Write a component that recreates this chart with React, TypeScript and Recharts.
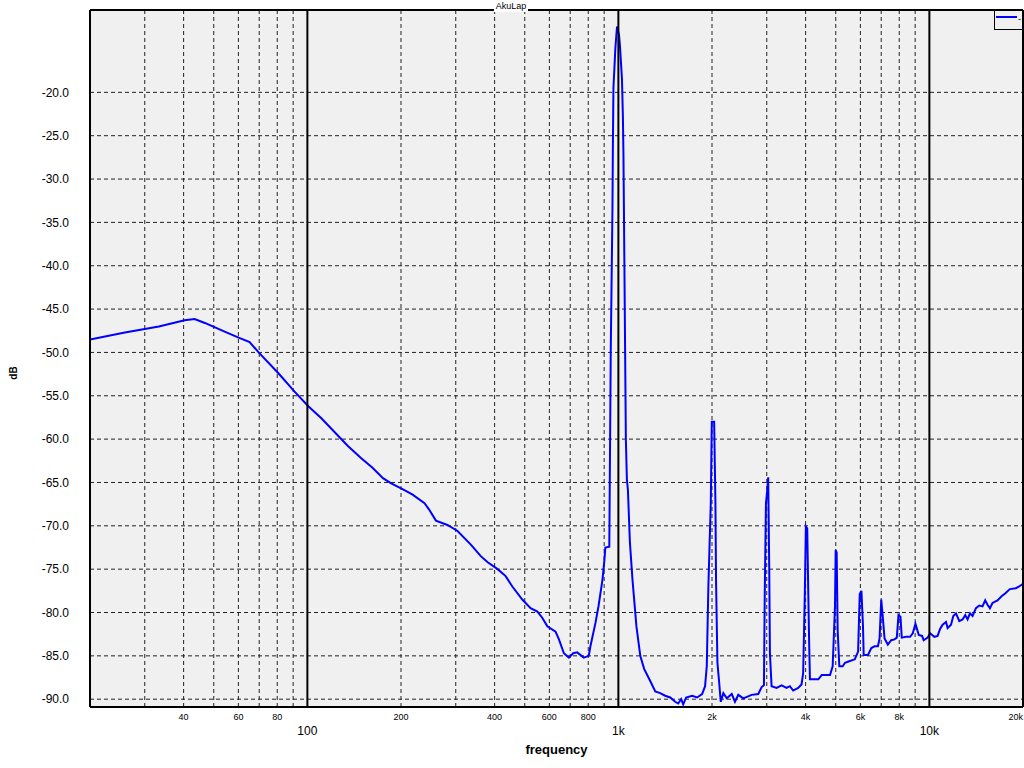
import { LineChart, Line, XAxis, YAxis, CartesianGrid, ReferenceLine } from "recharts";

// spectrum (Hz / dB)
const freq = [
  20, 25.9, 33.3, 40.3, 43.4, 46.8, 54.2, 60.1, 65.2, 69.7, 80.7, 90.8, 100.7, 110.9,
  135, 149, 162, 175, 186, 203, 218, 238, 246, 259, 282, 304, 336, 361, 380, 409, 434,
  456, 491, 522, 549, 569, 591, 628, 644, 668, 693, 716, 737, 774, 803, 813, 844, 863,
  889, 902, 908, 935, 945, 957, 960, 964, 971, 978, 990, 1005, 1012, 1027, 1034, 1038,
  1042, 1057, 1065, 1073, 1089, 1110, 1143, 1176, 1210, 1266, 1314, 1363, 1414, 1468,
  1523, 1557, 1592, 1616, 1651, 1727, 1791, 1859, 1900, 1924, 1947, 1982, 1997, 2032,
  2051, 2061, 2082, 2107, 2134, 2175, 2231, 2315, 2371, 2430, 2521, 2683, 2817, 2888,
  2938, 2955, 2982, 3012, 3032, 3055, 3071, 3109, 3227, 3348, 3474, 3560, 3648, 3785,
  3880, 3928, 3977, 4007, 4048, 4078, 4108, 4130, 4395, 4507, 4792, 4887, 4971, 4997,
  5034, 5071, 5133, 5263, 5354, 5552, 5758, 5899, 5971, 6046, 6117, 6148, 6347, 6506,
  6667, 6832, 6915, 7002, 7085, 7176, 7352, 7539, 7725, 7857, 7956, 8074, 8151, 8420,
  8673, 8842, 9020, 9107, 9243, 9476, 9588, 9874, 10051, 10375, 10631, 10822, 11030,
  11311, 11447, 11737, 11937, 12179, 12480, 12786, 13045, 13269, 13506, 13767, 14116,
  14465, 14819, 15118, 15379, 15654, 15957, 16556, 17102, 17524, 18144, 18967, 19433,
  20000,
];
const level = [
  -48.5, -47.7, -47.0, -46.3, -46.15, -46.6, -47.6, -48.3, -48.8, -50.0, -52.4, -54.5, -56.2, -57.6,
  -60.8, -62.2, -63.3, -64.5, -65.1, -65.8, -66.4, -67.4, -68.1, -69.4, -69.9, -70.6, -72.2, -73.5, -74.2, -75.0, -75.8,
  -77.0, -78.5, -79.5, -79.9, -80.6, -81.6, -82.2, -83.1, -84.7, -85.2, -84.7, -84.6, -85.2, -85.0, -83.9, -81.2, -79.3,
  -76.2, -73.9, -72.5, -72.4, -50.0, -33.6, -26.5, -19.5, -17.2, -14.9, -12.4, -13.4, -14.7, -18.5, -22.8, -26.9,
  -33.6, -60.0, -64.7, -65.8, -71.9, -76.2, -81.6, -85.0, -86.5, -87.9, -89.1, -89.3, -89.6, -89.8,
  -90.3, -90.5, -90.0, -90.6, -89.8, -89.6, -89.8, -89.4, -88.5, -86.2, -77.0, -67.4, -58.0, -58.0,
  -67.2, -76.4, -85.8, -87.9, -90.3, -89.3, -89.9, -89.4, -90.3, -89.5, -89.9, -89.5, -89.4, -88.6,
  -88.4, -78.1, -67.4, -65.8, -64.4, -74.7, -84.7, -88.5, -88.7, -88.4, -88.7, -88.5, -89.0, -88.7,
  -88.3, -87.0, -77.7, -70.1, -70.3, -77.4, -83.9, -87.7, -87.7, -87.2, -87.2, -86.2, -79.3, -72.8,
  -73.1, -82.0, -86.2, -86.2, -85.8, -85.6, -85.4, -84.5, -77.9, -77.5, -81.6, -84.9, -84.9, -84.1,
  -83.9, -83.9, -83.0, -78.5, -80.6, -83.0, -83.7, -83.2, -83.1, -82.9, -80.3, -80.5, -82.9, -82.8,
  -82.8, -82.4, -81.3, -81.8, -82.6, -82.7, -83.2, -82.9, -82.4, -82.8, -82.7, -81.9, -81.4,
  -81.1, -81.8, -81.4, -80.4, -80.1, -81.0, -80.8, -80.3, -80.8, -80.1, -80.4, -79.5,
  -79.2, -79.3, -78.6, -79.1, -79.5, -78.9, -78.6, -78.1, -77.8, -77.3, -77.2, -77.0,
  -76.7,
];

const yTicks = [-20, -25, -30, -35, -40, -45, -50, -55, -60, -65, -70, -75, -80, -85, -90];
const xTicks = [40, 60, 80, 100, 200, 400, 600, 800, 1000, 2000, 4000, 6000, 8000, 10000, 20000];
const xLabels = ["40", "60", "80", "100", "200", "400", "600", "800", "1k", "2k", "4k", "6k", "8k", "10k", "20k"];
const majorLines = [100, 1000, 10000];
const minorLines = [
  30, 40, 50, 60, 70, 80, 90, 200, 300, 400, 500, 600, 700, 800, 900,
  2000, 3000, 4000, 5000, 6000, 7000, 8000, 9000,
];

const X_MIN = 20;
const X_MAX = 20000;
const Y_MIN = -90.9;
const Y_MAX = -10.5;

const data = freq.map((f, i) => ({ f, db: level[i] }));

const font = "'Liberation Sans', Arial, sans-serif";

function FreqTick(props: any) {
  const { x, y, payload } = props;
  const idx = xTicks.indexOf(payload.value);
  const text = idx >= 0 ? xLabels[idx] : String(payload.value);
  const major = majorLines.includes(payload.value);
  const last = payload.value === X_MAX;
  return (
    <text
      x={x}
      y={y + (major ? 28 : 13)}
      textAnchor={last ? "end" : "middle"}
      fontFamily={font}
      fontSize={major ? 12 : 9}
      fill="#000"
    >
      {text}
    </text>
  );
}

export default function App() {
  return (
    <div style={{ position: "absolute", left: 0, top: 0, width: 1024, height: 768, background: "#fff" }}>
      <LineChart width={1024} height={768} data={data} margin={{ top: 10, right: 1, bottom: 0, left: 0 }}>
        <CartesianGrid
          vertical={false}
          stroke="#222"
          strokeDasharray="4 3"
          fill="#f0f0f0"
          fillOpacity={1}
        />
        <XAxis
          dataKey="f"
          type="number"
          scale="log"
          domain={[X_MIN, X_MAX]}
          allowDataOverflow
          ticks={xTicks}
          interval={0}
          height={61}
          tickLine={false}
          tickSize={0}
          tickMargin={0}
          tick={<FreqTick />}
          axisLine={{ stroke: "#000", strokeWidth: 2 }}
          label={{
            content: (p: any) => (
              <text
                x={p.viewBox.x + p.viewBox.width / 2}
                y={p.viewBox.y + 47}
                textAnchor="middle"
                fontFamily={font}
                fontSize={13}
                fontWeight="bold"
                fill="#000"
              >
                frequency
              </text>
            ),
          }}
        />
        <YAxis
          type="number"
          domain={[Y_MIN, Y_MAX]}
          allowDataOverflow
          ticks={yTicks}
          interval={0}
          width={90}
          tickLine={false}
          tickSize={0}
          tickMargin={21}
          tickFormatter={(v: number) => v.toFixed(1)}
          tick={{ fontFamily: font, fontSize: 12, fill: "#000" }}
          axisLine={{ stroke: "#000", strokeWidth: 2 }}
          label={{
            content: () => (
              <text
                x={17}
                y={373}
                transform="rotate(-90 17 373)"
                textAnchor="middle"
                fontFamily={font}
                fontSize={10}
                fontWeight="bold"
                fill="#000"
              >
                dB
              </text>
            ),
          }}
        />
        {minorLines.map((v) => (
          <ReferenceLine key={"m" + v} x={v} stroke="#222" strokeDasharray="4 3" />
        ))}
        <Line
          type="linear"
          dataKey="db"
          stroke="#0000ff"
          strokeWidth={2}
          dot={false}
          activeDot={false}
          isAnimationActive={false}
        />
        {majorLines.map((v) => (
          <ReferenceLine key={"M" + v} x={v} stroke="#000" strokeWidth={2} />
        ))}
        <ReferenceLine y={Y_MAX} stroke="#000" strokeWidth={2} />
        <ReferenceLine x={X_MAX} stroke="#000" strokeWidth={2} />
      </LineChart>
      <div
        style={{
          position: "absolute",
          left: 494,
          top: 0,
          width: 34,
          height: 12,
          background: "#fff",
          fontFamily: font,
          fontSize: 9,
          lineHeight: "12px",
          textAlign: "center",
          color: "#000",
        }}
      >
        AkuLap
      </div>
      <div
        style={{
          position: "absolute",
          left: 994,
          top: 10,
          width: 27,
          height: 18,
          border: "1px solid #000",
          background: "#f0f0f0",
          boxSizing: "content-box",
        }}
      >
        <div style={{ position: "absolute", left: 1, top: 5, width: 21, height: 2, background: "#0000ff" }} />
        <div
          style={{
            position: "absolute",
            left: 23,
            top: 2,
            fontFamily: font,
            fontSize: 9,
            lineHeight: "12px",
            color: "#000",
          }}
        >
          -
        </div>
      </div>
    </div>
  );
}
